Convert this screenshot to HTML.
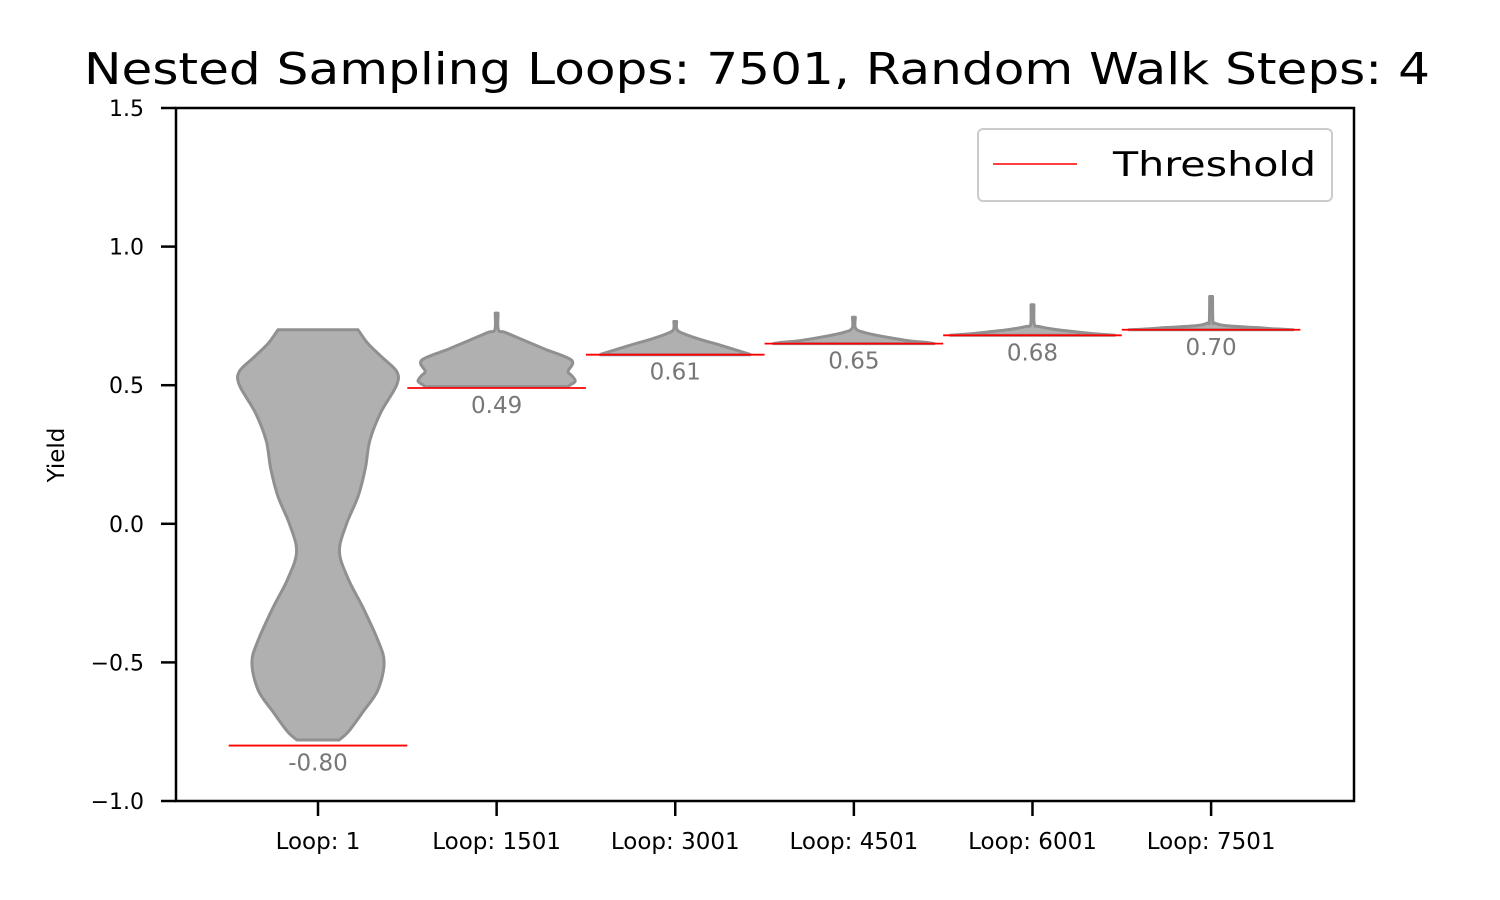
<!DOCTYPE html>
<html><head><meta charset="utf-8"><style>
html,body{margin:0;padding:0;background:#fff;}
svg{display:block;font-family:"DejaVu Sans","Liberation Sans",sans-serif;}
</style></head><body>
<svg id="chart" width="1500" height="900" viewBox="0 0 1500 900" xmlns="http://www.w3.org/2000/svg">
<rect width="1500" height="900" fill="#fff"/>
<text x="757" y="84" text-anchor="middle" font-size="44" textLength="1346" lengthAdjust="spacingAndGlyphs">Nested Sampling Loops: 7501, Random Walk Steps: 4</text>
<g id="plot"></g>
<rect x="176" y="108" width="1178" height="693" fill="none" stroke="#000" stroke-width="2.5"/>
<text transform="translate(64,455) rotate(-90)" text-anchor="middle" font-size="23">Yield</text>
<g>
<rect x="978" y="129" width="354" height="72" rx="5" fill="#fff" stroke="#ccc" stroke-width="2"/>
<line x1="993" y1="164" x2="1077" y2="164" stroke="red" stroke-width="1.5"/>
<text x="1113" y="176" font-size="34" textLength="203" lengthAdjust="spacingAndGlyphs">Threshold</text>
</g>
</svg>
<script>
const categories = ["Loop: 1","Loop: 1501","Loop: 3001","Loop: 4501","Loop: 6001","Loop: 7501"];
const thresholds = [-0.80, 0.49, 0.61, 0.65, 0.68, 0.70];
const thresholdLabels = ["-0.80","0.49","0.61","0.65","0.68","0.70"];
const yTicks = [-1.0, -0.5, 0.0, 0.5, 1.0, 1.5];
const yTickLabels = ["\u22121.0","\u22120.5","0.0","0.5","1.0","1.5"];
// violin profiles: yield levels and half-widths (category units)
const v1Y = [-0.78,-0.75,-0.68,-0.6,-0.5,-0.42,-0.3,-0.2,-0.1,0.0,0.1,0.2,0.3,0.4,0.5,0.55,0.6,0.65,0.70];
const v1W = [0.118,0.17,0.25,0.335,0.37,0.335,0.25,0.17,0.12,0.16,0.225,0.265,0.29,0.35,0.44,0.44,0.36,0.28,0.224];
const v2Y = [0.495,0.50,0.515,0.535,0.55,0.59,0.63,0.66,0.69,0.70,0.76];
const v2W = [0.40,0.41,0.44,0.42,0.40,0.42,0.27,0.16,0.05,0.01,0.008];
const v3Y = [0.61,0.615,0.635,0.645,0.665,0.685,0.70,0.73];
const v3W = [0.42,0.40,0.30,0.25,0.14,0.05,0.01,0.008];
const v4Y = [0.65,0.655,0.66,0.675,0.69,0.705,0.745];
const v4W = [0.45,0.40,0.31,0.17,0.06,0.01,0.008];
const v5Y = [0.68,0.683,0.688,0.70,0.712,0.72,0.79];
const v5W = [0.46,0.40,0.31,0.14,0.035,0.01,0.008];
const v6Y = [0.70,0.703,0.708,0.715,0.724,0.73,0.82];
const v6W = [0.46,0.36,0.25,0.08,0.02,0.01,0.008];
const violinY = [v1Y,v2Y,v3Y,v4Y,v5Y,v6Y];
const violinW = [v1W,v2W,v3W,v4W,v5W,v6W];

const NS="http://www.w3.org/2000/svg";
const x0=176,x1=1354,y0=108,y1=801;
const xMin=0.205,xMax=6.8,yMin=-1.0,yMax=1.5;
const sx=v=>x0+(v-xMin)/(xMax-xMin)*(x1-x0);
const sy=v=>y1-(v-yMin)/(yMax-yMin)*(y1-y0);
const unit=sx(2)-sx(1);
const g=document.getElementById('plot');
function mk(t,a){const e=document.createElementNS(NS,t);for(const k in a)e.setAttribute(k,a[k]);g.appendChild(e);return e;}
function smooth(pts){let d=`M${pts[0][0]},${pts[0][1]}`;for(let i=0;i<pts.length-1;i++){const p0=pts[Math.max(0,i-1)],p1=pts[i],p2=pts[i+1],p3=pts[Math.min(pts.length-1,i+2)];const c1=[p1[0]+(p2[0]-p0[0])/6,p1[1]+(p2[1]-p0[1])/6],c2=[p2[0]-(p3[0]-p1[0])/6,p2[1]-(p3[1]-p1[1])/6];d+=` C${c1[0]},${c1[1]} ${c2[0]},${c2[1]} ${p2[0]},${p2[1]}`;}return d;}

yTicks.forEach((t,i)=>{
  const tk=mk('line',{x1:x0-15,x2:x0,y1:sy(t),y2:sy(t),stroke:'#000','stroke-width':2.5});
  
  
  const lb=mk('text',{x:x0-32,y:sy(t)+8,'text-anchor':'end','font-size':22});
  lb.textContent=yTickLabels[i];
  
  
});
categories.forEach((c,i)=>{
  const cx=sx(i+1);
  const tk=mk('line',{x1:cx,x2:cx,y1:y1,y2:y1+15,stroke:'#000','stroke-width':2.5});
  
  
  const lb=mk('text',{x:cx,y:849,'text-anchor':'middle','font-size':23});
  lb.textContent=c;
  
  
  const ys=violinY[i],ws=violinW[i];
  const right=ys.map((y,j)=>[cx+ws[j]*unit,sy(y)]);
  const left=ys.map((y,j)=>[cx-ws[j]*unit,sy(y)]).reverse();
  const d=smooth(right)+' L'+left[0][0]+','+left[0][1]+' '+smooth(left).slice(1).replace(/^[^C]*/,'')+' Z';
  const v=mk('path',{d:d,fill:'#b0b0b0',stroke:'#909090','stroke-width':3,'stroke-linejoin':'round'});
  
  
  const th=mk('line',{x1:cx-0.5*unit,x2:cx+0.5*unit,y1:sy(thresholds[i]),y2:sy(thresholds[i]),stroke:'red','stroke-width':1.8});
  
  
  const tl=mk('text',{x:cx,y:sy(thresholds[i])+25,'text-anchor':'middle','font-size':23,fill:'#777'});
  tl.textContent=thresholdLabels[i];
  
  
});
</script>
</body></html>
